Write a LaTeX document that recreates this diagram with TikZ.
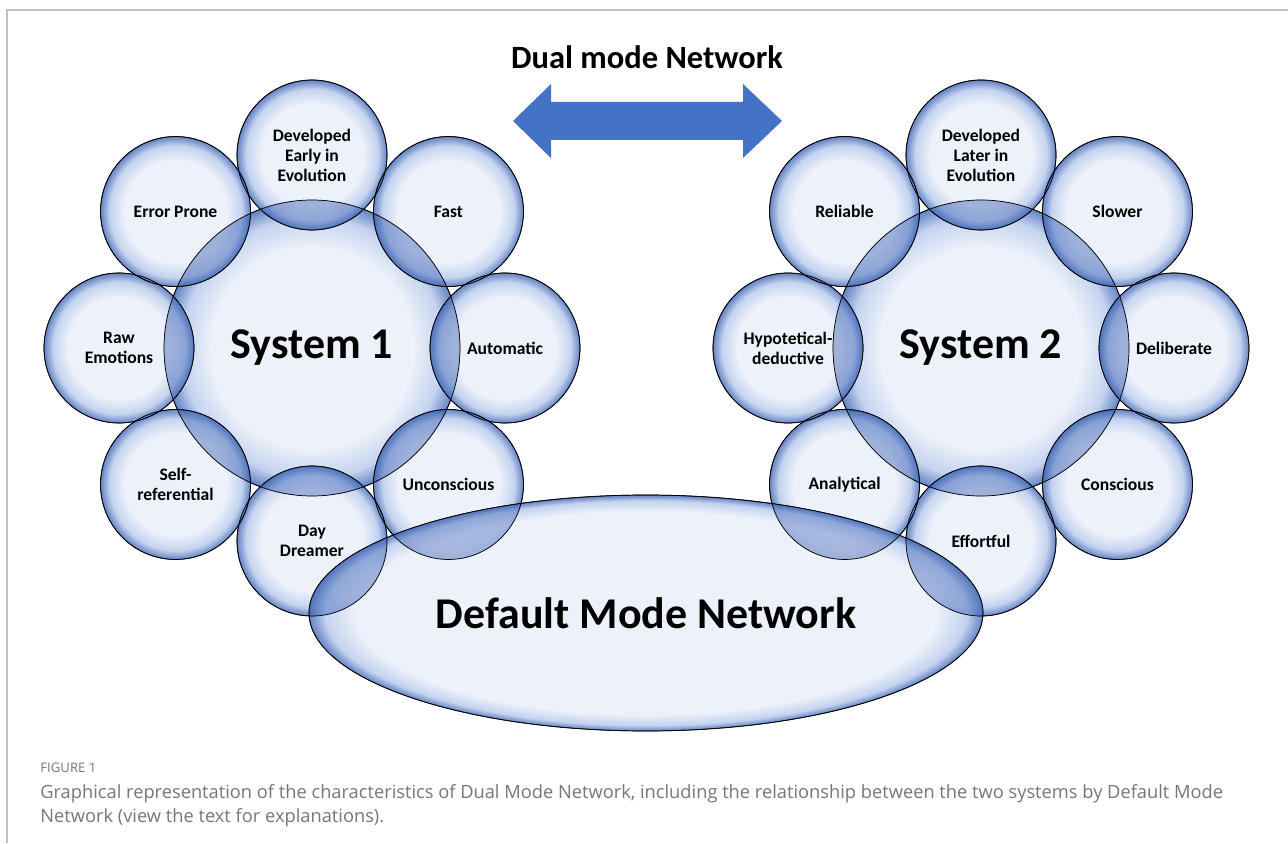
\documentclass[tikz,border=0pt]{standalone}
\usepackage{fontspec}
\setmainfont{Carlito}
\newfontfamily\capfont{Open Sans}
\usetikzlibrary{shapes.geometric,positioning,calc}
\definecolor{bubLight}{RGB}{234,239,249}
\definecolor{bubMid}{RGB}{186,203,236}
\definecolor{bubEdge}{RGB}{72,110,186}
\definecolor{lensBlue}{RGB}{62,100,180}
\definecolor{arrowBlue}{RGB}{68,114,196}
\definecolor{frameGray}{RGB}{192,192,192}
\definecolor{capGray}{RGB}{118,118,118}
\pgfdeclareradialshading{bubshade}{\pgfpoint{0bp}{0bp}}{color(0bp)=(bubLight); color(17bp)=(bubLight); color(22bp)=(bubMid); color(25bp)=(bubEdge); color(50bp)=(bubEdge)}
\pgfdeclareradialshading{ellshade}{\pgfpoint{0bp}{0bp}}{color(0bp)=(bubLight); color(21.5bp)=(bubLight); color(23.8bp)=(bubMid); color(25bp)=(bubEdge); color(50bp)=(bubEdge)}
\tikzset{
  bigBubble/.style={circle, draw=black, thin, shade, shading=bubshade,
                    fill opacity=0.85, text opacity=1, minimum size=5.92cm,
                    inner sep=0pt, font=\fontsize{25}{28}\selectfont\bfseries},
  smallBubble/.style={circle, draw=black, thin, shade, shading=bubshade,
                      fill opacity=0.85, text opacity=1, minimum size=3cm,
                      inner sep=0pt, align=center,
                      font=\fontsize{10}{11.4}\selectfont\bfseries},
  dmnBubble/.style={ellipse, draw=black, thin, shade, shading=ellshade,
                    fill opacity=0.85, text opacity=1, minimum width=13.48cm,
                    minimum height=4.72cm, inner sep=0pt,
                    font=\fontsize{25}{28}\selectfont\bfseries},
  lens/.style={fill=lensBlue, fill opacity=0.38},
  rim/.style={draw=black, thin},
  titleText/.style={font=\fontsize{18.5}{22}\selectfont\bfseries},
  capText/.style={inner sep=0pt, text=capGray, align=left}
}
\begin{document}
\begin{tikzpicture}[x=0.02cm, y=0.02cm]
  \useasboundingbox (0,0) rectangle (1288,843);
  % frame
  \draw[frameGray, line width=1.4pt] (1288,833) -- (7,833) -- (7,0);

  % title and two-way arrow
  \node[titleText] (title) at (647,786) {Dual mode Network};
  \fill[arrowBlue] (513,722) -- (551,759) -- (551,741) -- (743,741) -- (743,759)
    -- (782,722) -- (743,685) -- (743,703) -- (551,703) -- (551,685) -- cycle;

  % system 1
  \node[bigBubble] (sysOne) at (312,495) {System 1};
  \node[smallBubble] (early) at ($(sysOne)+(90:193)$) {Developed\\Early in\\Evolution};
  \node[smallBubble] (fast) at ($(sysOne)+(45:193)$) {Fast};
  \node[smallBubble] (auto) at ($(sysOne)+(0:193)$) {Automatic};
  \node[smallBubble] (uncon) at ($(sysOne)+(-45:193)$) {Unconscious};
  \node[smallBubble] (dream) at ($(sysOne)+(-90:193)$) {Day\\Dreamer};
  \node[smallBubble] (selfref) at ($(sysOne)+(-135:193)$) {Self-\\referential};
  \node[smallBubble] (raw) at ($(sysOne)+(180:193)$) {Raw\\Emotions};
  \node[smallBubble] (error) at ($(sysOne)+(135:193)$) {Error Prone};

  % system 2
  \node[bigBubble] (sysTwo) at (981,495) {System 2};
  \node[smallBubble] (later) at ($(sysTwo)+(90:193)$) {Developed\\Later in\\Evolution};
  \node[smallBubble] (slower) at ($(sysTwo)+(45:193)$) {Slower};
  \node[smallBubble] (delib) at ($(sysTwo)+(0:193)$) {Deliberate};
  \node[smallBubble] (consc) at ($(sysTwo)+(-45:193)$) {Conscious};
  \node[smallBubble] (effort) at ($(sysTwo)+(-90:193)$) {Effortful};
  \node[smallBubble] (analyt) at ($(sysTwo)+(-135:193)$) {Analytical};
  \node[smallBubble] (hypo) at ($(sysTwo)+(180:193)$) {Hypotetical-\\deductive};
  \node[smallBubble] (reliable) at ($(sysTwo)+(135:193)$) {Reliable};

  % default mode network
  \node[dmnBubble] (dmn) at (646,230) {Default Mode Network};

  % darker overlaps
  \foreach \b in {early,fast,auto,uncon,dream,selfref,raw,error} {
    \begin{scope}
      \clip (sysOne) circle[radius=148];
      \fill[lens] (\b) circle[radius=75];
    \end{scope}
  }
  \foreach \b in {later,slower,delib,consc,effort,analyt,hypo,reliable} {
    \begin{scope}
      \clip (sysTwo) circle[radius=148];
      \fill[lens] (\b) circle[radius=75];
    \end{scope}
  }
  \foreach \b in {uncon,dream,analyt,effort} {
    \begin{scope}
      \clip (dmn) ellipse[x radius=337, y radius=118];
      \fill[lens] (\b) circle[radius=75];
    \end{scope}
  }
  \foreach \b in {early,fast,auto,uncon,dream,selfref,raw,error,
                  later,slower,delib,consc,effort,analyt,hypo,reliable}
    \draw[rim] (\b) circle[radius=75];
  \draw[rim] (sysOne) circle[radius=148];
  \draw[rim] (sysTwo) circle[radius=148];
  \draw[rim] (dmn) ellipse[x radius=337, y radius=118];

  % caption
  \node[capText, anchor=west, font=\capfont\fontsize{7.5}{9}\selectfont] (figno) at (40,75) {FIGURE 1};
  \node[capText, anchor=north west, font=\capfont\fontsize{10.4}{13.6}\selectfont] (caption) at (40,59)
    {Graphical representation of the characteristics of Dual Mode Network, including the relationship between the two systems by Default Mode\\
     Network (view the text for explanations).};
\end{tikzpicture}
\end{document}
